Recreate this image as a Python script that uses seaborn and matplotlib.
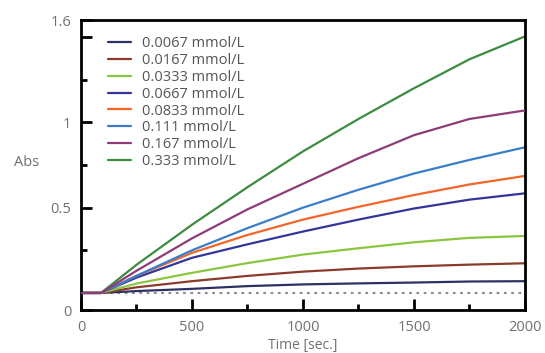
import numpy as np
import pandas as pd
import matplotlib
matplotlib.use("Agg")
import matplotlib.pyplot as plt
import seaborn as sns
from matplotlib.ticker import FixedLocator

# time points (sec.)
time = [0, 90, 250, 500, 750, 1000, 1250, 1500, 1750, 2000]

# absorbance per concentration
labels = ["0.0067 mmol/L", "0.0167 mmol/L", "0.0333 mmol/L", "0.0667 mmol/L",
          "0.0833 mmol/L", "0.111 mmol/L", "0.167 mmol/L", "0.333 mmol/L"]
abs_0067 = [0, 0, 0.011, 0.024, 0.040, 0.050, 0.056, 0.061, 0.067, 0.069]
abs_0167 = [0, 0, 0.033, 0.069, 0.100, 0.125, 0.143, 0.156, 0.166, 0.174]
abs_0333 = [0, 0, 0.055, 0.118, 0.175, 0.225, 0.262, 0.297, 0.323, 0.334]
abs_0667 = [0, 0, 0.090, 0.206, 0.285, 0.360, 0.430, 0.495, 0.547, 0.584]
abs_0833 = [0, 0, 0.100, 0.235, 0.340, 0.430, 0.505, 0.574, 0.636, 0.686]
abs_111 = [0, 0, 0.100, 0.250, 0.380, 0.500, 0.605, 0.700, 0.780, 0.854]
abs_167 = [0, 0, 0.130, 0.320, 0.490, 0.640, 0.790, 0.925, 1.020, 1.070]
abs_333 = [0, 0, 0.165, 0.400, 0.620, 0.830, 1.020, 1.200, 1.370, 1.504]
series = [abs_0067, abs_0167, abs_0333, abs_0667, abs_0833, abs_111, abs_167, abs_333]

colors = ["#2e2f63", "#8b3a2b", "#8cc63f", "#33359a",
          "#f4652a", "#3b7dc9", "#8e3b78", "#3c8c40"]

sns.set_style("ticks")
plt.rcParams["font.family"] = ["Open Sans", "DejaVu Sans"]

fig = plt.figure(figsize=(5.45, 3.53), dpi=100)
ax = fig.add_axes([0.1486, 0.1218, 0.8147, 0.8215])

# dotted baseline
ax.axhline(0, color="#8a8a8a", lw=1.5, ls=(0, (1.3, 2.2)), zorder=1)

for lab, vals, col in zip(labels, series, colors):
    df = pd.DataFrame({"Time": time, "Abs": vals})
    z = 3 if lab.startswith("0.167") else 2
    sns.lineplot(data=df, x="Time", y="Abs", color=col, lw=1.6, label=lab,
                 ax=ax, zorder=z)

ax.set_xlim(0, 2000)
ax.set_ylim(-0.1, 1.6)

# axis ticks: inward, major + minor
ax.set_xticks([0, 500, 1000, 1500, 2000])
ax.xaxis.set_minor_locator(FixedLocator([250, 750, 1250, 1750]))
ax.set_yticks([-0.1, 0.5, 1.0, 1.5, 1.6])
ax.set_yticklabels(["0", "0.5", "1", "", "1.6"])  # reference labels the bottom edge as 0
ax.yaxis.set_minor_locator(FixedLocator([0.25, 0.75, 1.25]))
ax.tick_params(which="major", direction="in", length=8, width=2, color="black",
               labelsize=10.5, labelcolor="#707070", pad=7)
ax.tick_params(which="minor", direction="in", length=4, width=2, color="black")
for s in ax.spines.values():
    s.set_linewidth(2)
    s.set_color("black")

ax.set_xlabel("Time [sec.]", fontsize=10, color="#707070", va="center")
ax.set_ylabel("Abs", fontsize=10.5, color="#707070", rotation=0, ha="center", va="center")
ax.xaxis.set_label_coords(0.5, -0.122)
ax.yaxis.set_label_coords(-0.122, 0.507)

ax.legend(loc="upper left", bbox_to_anchor=(0.061, 0.945), frameon=False,
          fontsize=10.5, labelcolor="#555555", handlelength=1.6, handletextpad=0.75,
          labelspacing=0.13, borderpad=0, borderaxespad=0)

fig.savefig("out.png", dpi=100)
